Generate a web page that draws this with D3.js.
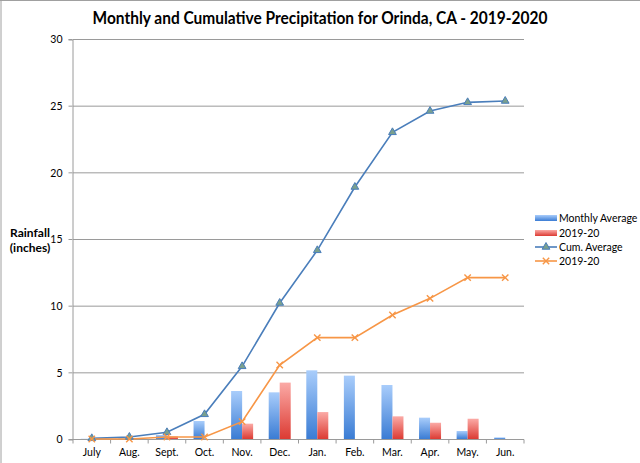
<!DOCTYPE html>
<html><head><meta charset="utf-8">
<script src="https://cdn.jsdelivr.net/npm/d3@7"></script>
<style>body{margin:0;background:#fff}svg{display:block}</style>
</head><body>
<script>
const months = ["July","Aug.","Sept.","Oct.","Nov.","Dec.","Jan.","Feb.","Mar.","Apr.","May.","Jun."];
const monthlyAverage = [0.02,0.05,0.3,1.35,3.6,3.5,5.15,4.75,4.05,1.6,0.6,0.12];
const monthly2019 = [0,0,0.2,0,1.15,4.23,2.02,0,1.7,1.22,1.52,0];
const cumAverage = [0.05,0.15,0.5,1.85,5.45,10.2,14.15,18.9,23.0,24.6,25.25,25.35];
const cum2019 = [0,0,0.15,0.15,1.3,5.55,7.6,7.6,9.3,10.55,12.1,12.1];
const yTicks = [0,5,10,15,20,25,30];
const title = "Monthly and Cumulative Precipitation for Orinda, CA - 2019-2020";
const legendLabels = ["Monthly Average","2019-20","Cum. Average","2019-20"];

const W=640,H=463;
const FONT="Lato, 'Open Sans', sans-serif";
const svg=d3.select("body").append("svg").attr("width",W).attr("height",H).style("font-family",FONT);
const defs=svg.append("defs");
function grad(id,top,bot){const g=defs.append("linearGradient").attr("id",id).attr("x1",0).attr("y1",0).attr("x2",0).attr("y2",1);
 g.append("stop").attr("offset","0%").attr("stop-color",top);g.append("stop").attr("offset","100%").attr("stop-color",bot);}
grad("gb","#a9cdfb","#3a7cd4");
grad("gr","#fbaaa6","#dc3b33");

// frame
svg.append("line").attr("x1",0).attr("x2",W).attr("y1",0.5).attr("y2",0.5).attr("stroke","#a0a0a0");
svg.append("line").attr("x1",1).attr("x2",1).attr("y1",0).attr("y2",H).attr("stroke","#a0a0a0");

const x=d3.scaleBand().domain(months).range([73,524]).paddingInner(0).paddingOuter(0);
const y=d3.scaleLinear().domain([0,30]).range([439,39]);

// gridlines
svg.append("g").selectAll("line").data(yTicks.filter(d=>d>0)).join("line")
 .attr("x1",73).attr("x2",524).attr("y1",d=>y(d)+0.5).attr("y2",d=>y(d)+0.5).attr("stroke","#9a9a9a").attr("stroke-width",1);

// y axis
const ya=svg.append("g").attr("transform","translate(72.5,0.5)").call(d3.axisLeft(y).tickValues(yTicks).tickSize(4).tickPadding(6));
ya.select(".domain").attr("stroke","#9a9a9a");
ya.selectAll(".tick line").attr("stroke","#9a9a9a").attr("transform","translate(0,-0.5)");
ya.selectAll("text").attr("font-size",10.5).attr("font-family",FONT).attr("fill","#000");
ya.selectAll(".tick text").attr("dy","0.32em");

// x axis
const xa=svg.append("g").attr("transform","translate(0,439.5)").call(d3.axisBottom(x).tickSize(0).tickPadding(9));
xa.select(".domain").attr("stroke","#9a9a9a").attr("d","M69,0H524");
xa.selectAll("text").attr("font-size",10.5).attr("font-family",FONT).attr("fill","#000");
xa.append("g").selectAll("line").data(d3.range(13)).join("line")
 .attr("x1",i=>73+i*x.bandwidth()).attr("x2",i=>73+i*x.bandwidth()).attr("y1",0).attr("y2",4).attr("stroke","#9a9a9a");

// bars
const bw=11;
svg.append("g").selectAll("rect").data(monthlyAverage).join("rect")
 .attr("x",(d,i)=>x(months[i])+x.bandwidth()/2-bw).attr("width",bw)
 .attr("y",d=>y(d)).attr("height",d=>y(0)-y(d)).attr("fill","url(#gb)");
svg.append("g").selectAll("rect").data(monthly2019).join("rect")
 .attr("x",(d,i)=>x(months[i])+x.bandwidth()/2).attr("width",bw)
 .attr("y",d=>y(d)).attr("height",d=>y(0)-y(d)).attr("fill","url(#gr)");

const cx=i=>x(months[i])+x.bandwidth()/2;
const line=d3.line().x((d,i)=>cx(i)).y(d=>y(d));
const blue="#4a7ebb", orange="#f79646";
svg.append("path").datum(cumAverage).attr("d",line).attr("fill","none").attr("stroke",blue).attr("stroke-width",1.6);
svg.append("path").datum(cum2019).attr("d",line).attr("fill","none").attr("stroke",orange).attr("stroke-width",1.6);

const tri=d3.symbol().type(d3.symbolTriangle).size(26);
function triMark(g,px,py){g.append("path").attr("d",tri()).attr("transform",`translate(${px},${py})`).attr("fill","#7aa08e").attr("stroke",blue).attr("stroke-width",1);}
function xMark(g,px,py){const s=3.2;g.append("path").attr("d",`M${px-s},${py-s}L${px+s},${py+s}M${px-s},${py+s}L${px+s},${py-s}`).attr("stroke",orange).attr("stroke-width",1.4);}
const mg=svg.append("g");
cumAverage.forEach((d,i)=>triMark(mg,cx(i),y(d)));
cum2019.forEach((d,i)=>xMark(mg,cx(i),y(d)));

// title
svg.append("text").attr("x",320).attr("y",24).attr("text-anchor","middle").attr("font-size",16.5).attr("font-weight","bold")
 .attr("textLength",455).attr("lengthAdjust","spacingAndGlyphs").text(title);

// y label
const yl=svg.append("text").attr("font-size",12).attr("font-weight","bold").attr("text-anchor","middle");
yl.append("tspan").attr("x",30).attr("y",237).text("Rainfall");
yl.append("tspan").attr("x",30).attr("y",252).text("(inches)");

// legend
const lg=svg.append("g");
const ly=[218,233,247,261];
lg.append("rect").attr("x",535).attr("y",ly[0]-3).attr("width",22).attr("height",6).attr("fill","url(#gb)");
lg.append("rect").attr("x",535).attr("y",ly[1]-3).attr("width",22).attr("height",6).attr("fill","url(#gr)");
lg.append("line").attr("x1",535).attr("x2",557).attr("y1",ly[2]).attr("y2",ly[2]).attr("stroke",blue).attr("stroke-width",1.6);
triMark(lg,546,ly[2]);
lg.append("line").attr("x1",535).attr("x2",557).attr("y1",ly[3]).attr("y2",ly[3]).attr("stroke",orange).attr("stroke-width",1.6);
xMark(lg,546,ly[3]);
lg.selectAll("text").data(legendLabels).join("text").attr("x",559).attr("y",(d,i)=>ly[i]).attr("dy","0.35em").attr("font-size",10.5).text(d=>d);
</script>
</body></html>
